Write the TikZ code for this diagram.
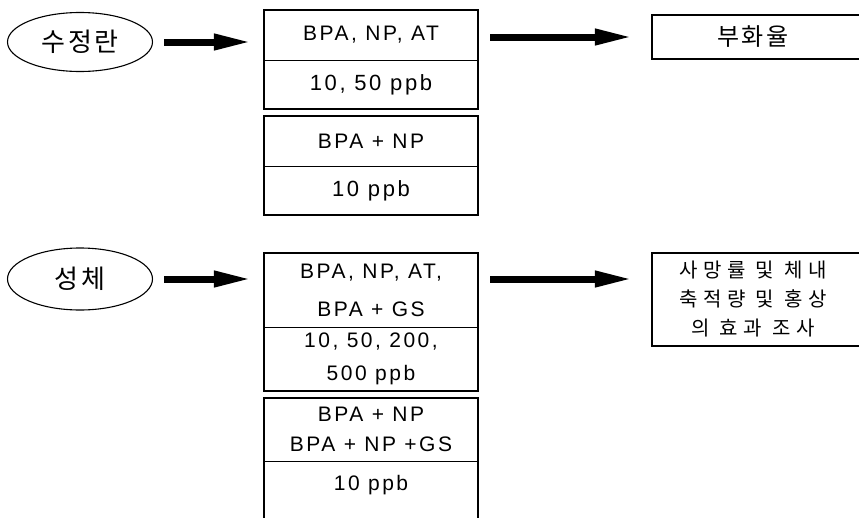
\documentclass[tikz,border=0pt]{standalone}
\usepackage{fontspec}
\usetikzlibrary{arrows.meta,shapes.geometric}
\newfontfamily\krOval[LetterSpace=10]{Noto Sans CJK KR}
\newfontfamily\krRes[LetterSpace=12]{Noto Sans CJK KR}
\newfontfamily\krLong[LetterSpace=28]{Noto Sans CJK KR}
\newfontfamily\lat[LetterSpace=12]{Liberation Sans}
\tikzset{
  oval/.style={ellipse,draw,line width=1.1pt,minimum width=145pt,inner sep=0pt,font=\krOval\fontsize{26}{30}\selectfont},
  cell/.style={minimum width=214pt,inner sep=0pt,align=center,font=\lat\fontsize{21}{25}\selectfont},
  frame/.style={line width=2pt},
  divider/.style={line width=1pt},
  result/.style={inner sep=0pt,align=center,font=\krLong\fontsize{20}{29}\selectfont},
  bigarrow/.style={line width=7pt,-{Triangle[length=38pt,width=15pt]}},
}
\begin{document}
\begin{tikzpicture}[x=1pt,y=-1pt]
\clip (0,0) rectangle (859,517);
\fill[white] (0,0) rectangle (859,517);
% ellipses
\node[oval,minimum height=59pt] (e1) at (80,42) {수정란};
\node[oval,minimum height=62pt] (e2) at (80,279) {성체};
% top group cells
\node[cell,minimum height=50pt] (a1) at (371,35) {BPA, NP, AT};
\node[cell,minimum height=49pt,font=\lat\fontsize{22}{26}\selectfont] (a2) at (371,84.5) {10, 50 ppb};
\node[cell,minimum height=50pt] (a3) at (371,141) {BPA + NP};
\node[cell,minimum height=49pt,font=\lat\fontsize{22}{26}\selectfont] (a4) at (371,190.5) {10 ppb};
\draw[frame] (a1.north west) rectangle (a2.south east);
\draw[divider] (a1.south west) -- (a1.south east);
\draw[frame] (a3.north west) rectangle (a4.south east);
\draw[divider] (a3.south west) -- (a3.south east);
% bottom group cells
\node[cell,minimum height=74pt,font=\lat\fontsize{21}{38}\selectfont] (b1) at (371,290) {BPA, NP, AT,\\BPA + GS};
\node[cell,minimum height=64pt,font=\lat\fontsize{21}{33}\selectfont] (b2) at (371,359) {10, 50, 200,\\500 ppb};
\node[cell,minimum height=63pt,font=\lat\fontsize{21}{30}\selectfont] (b3) at (371,429.5) {BPA + NP\\BPA + NP +GS};
\node[cell,minimum height=48pt,font=\lat\fontsize{21}{25}\selectfont] (b4) at (371,485) {10 ppb};
\draw[frame] (b1.north west) rectangle (b2.south east);
\draw[divider] (b1.south west) -- (b1.south east);
\draw[frame] (b3.north west) rectangle ([yshift=-30pt]b4.south east);
\draw[divider] (b3.south west) -- (b3.south east);
% result boxes
\node[result,minimum width=202pt,minimum height=44pt,font=\krRes\fontsize{24}{28}\selectfont] (r1) at (753,37) {부화율};
\node[result,minimum width=202pt,minimum height=93pt] (r2) at (753,299.5) {사망률 및 체내\\축적량 및 홍상\\의 효과 조사};
\draw[frame] (r1.north west) rectangle ([xshift=20pt]r1.south east);
\draw[frame] (r2.north west) rectangle ([xshift=20pt]r2.south east);
% arrows
\draw[bigarrow,shorten <=11pt,shorten >=12pt] (e1.east) -- (e1.east -| a1.west);
\draw[bigarrow,shorten <=12pt,shorten >=19pt] (r1.west -| a1.east) -- (r1.west);
\draw[bigarrow,shorten <=11pt,shorten >=12pt] (e2.east) -- (e2.east -| b1.west);
\draw[bigarrow,shorten <=12pt,shorten >=19pt] (e2.east -| b1.east) -- (e2.east -| r2.west);
\end{tikzpicture}
\end{document}
